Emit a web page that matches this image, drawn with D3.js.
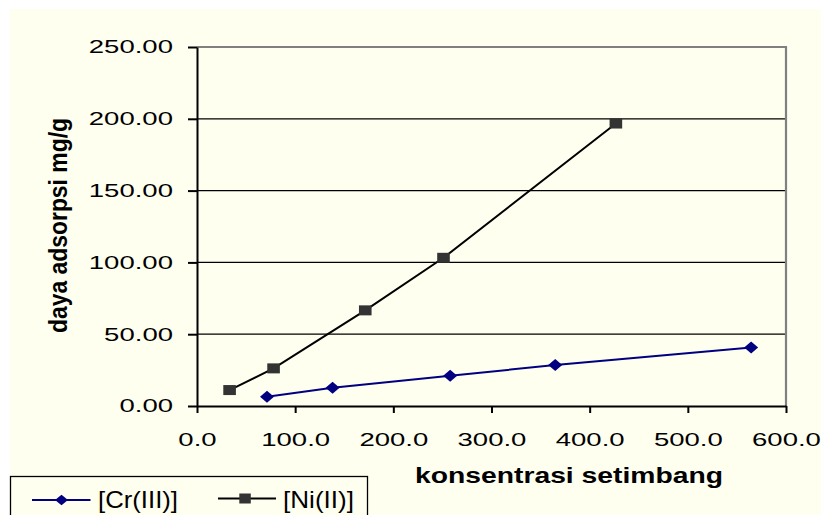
<!DOCTYPE html>
<html><head><meta charset="utf-8">
<script src="https://cdn.jsdelivr.net/npm/d3@7"></script>
<style>
html,body{margin:0;padding:0;background:#fff;}
svg{display:block;font-family:"Liberation Sans",Arial,sans-serif;}
</style></head>
<body>
<svg id="chart" width="821" height="515"></svg>
<script>
const crX = [71.3, 138.1, 257.9, 364.9, 564.5];
const crY = [6.5, 12.7, 21.1, 28.5, 40.8];
const niX = [33.2, 78.0, 171.4, 251.1, 426.7];
const niY = [11.1, 26.2, 66.6, 103.2, 196.7];
const xTicks = [0, 100, 200, 300, 400, 500, 600];
const yTicks = [0, 50, 100, 150, 200, 250];
const seriesNames = ["[Cr(III)]", "[Ni(II)]"];
const xTitle = "konsentrasi setimbang";
const yTitle = "daya adsorpsi mg/g";

const svg = d3.select("#chart");
svg.append("rect").attr("x",10).attr("y",9).attr("width",811).attr("height",506).attr("fill","#FFFFF0");

const L=197, R=786, T=47, B=406;
const x = d3.scaleLinear().domain([0,600]).range([L,R]);
const y = d3.scaleLinear().domain([0,250]).range([B,T]);
const SX = 1.48;

// gridlines
svg.append("g").selectAll("line").data(yTicks.filter(d=>d>0&&d<250)).join("line")
  .attr("x1",L).attr("x2",R).attr("y1",d=>y(d)).attr("y2",d=>y(d))
  .attr("stroke","#000").attr("stroke-width",1.3);
// top/right border
svg.append("path").attr("d",`M${L},${T}H${R}V${B}`).attr("fill","none").attr("stroke","#808080").attr("stroke-width",2.2);

// axes
const yAxis = svg.append("g").attr("transform",`translate(${L},0)`)
  .call(d3.axisLeft(y).tickValues(yTicks).tickSize(9).tickSizeOuter(0).tickFormat(d3.format(".2f")));
const xAxis = svg.append("g").attr("transform",`translate(0,${B})`)
  .call(d3.axisBottom(x).tickValues(xTicks).tickSize(7).tickSizeOuter(0).tickPadding(20).tickFormat(d3.format(".1f")));
[yAxis,xAxis].forEach(a=>{
  a.select(".domain").attr("stroke","#000").attr("stroke-width",2);
  a.selectAll(".tick line").attr("stroke","#000").attr("stroke-width",2);
  a.selectAll("text").attr("fill","#000").attr("font-size",18.6).attr("font-family","Liberation Sans, Arial, sans-serif");
});
yAxis.selectAll(".tick text").attr("x",0).attr("transform",`translate(-24,0) scale(${SX},1)`);
xAxis.selectAll(".tick text").attr("transform",`scale(${SX},1)`);

// titles
svg.append("text").attr("x",415).attr("y",483).attr("text-anchor","start")
  .attr("font-weight","bold").attr("font-size",22).attr("textLength",308).attr("lengthAdjust","spacingAndGlyphs").text(xTitle);
svg.append("text").attr("transform","translate(67,225.5) rotate(-90) scale(1,1.12)").attr("text-anchor","middle")
  .attr("font-weight","bold").attr("font-size",22.5).attr("textLength",215).attr("lengthAdjust","spacingAndGlyphs").text(yTitle);

const line = d3.line().x(d=>x(d[0])).y(d=>y(d[1]));
const cr = crX.map((v,i)=>[v,crY[i]]);
const ni = niX.map((v,i)=>[v,niY[i]]);

svg.append("path").datum(cr).attr("d",line).attr("fill","none").attr("stroke","#000080").attr("stroke-width",2);
svg.append("path").datum(ni).attr("d",line).attr("fill","none").attr("stroke","#000").attr("stroke-width",2);

const diamondPath = (w,h)=>`M0,${-h/2}L${w/2},0L0,${h/2}L${-w/2},0Z`;
svg.append("g").selectAll("path").data(cr).join("path")
  .attr("d",diamondPath(14,12)).attr("transform",d=>`translate(${x(d[0])},${y(d[1])})`).attr("fill","#000080");
svg.append("g").selectAll("rect").data(ni).join("rect")
  .attr("x",d=>x(d[0])-6.3).attr("y",d=>y(d[1])-5).attr("width",12.6).attr("height",10).attr("fill","#333333");

// legend
const lg = svg.append("g");
lg.append("rect").attr("x",10.5).attr("y",476.5).attr("width",357).attr("height",50).attr("fill","#FFFFF0").attr("stroke","#000").attr("stroke-width",1.3);
lg.append("line").attr("x1",32).attr("x2",90.5).attr("y1",500).attr("y2",500).attr("stroke","#000080").attr("stroke-width",2);
lg.append("path").attr("d",diamondPath(13,10.5)).attr("transform","translate(61.5,500)").attr("fill","#000080");
lg.append("text").attr("x",98).attr("y",508).attr("font-size",24).attr("textLength",80).attr("lengthAdjust","spacingAndGlyphs").text(seriesNames[0]);
lg.append("line").attr("x1",218).attr("x2",276).attr("y1",498.5).attr("y2",498.5).attr("stroke","#000").attr("stroke-width",2);
lg.append("rect").attr("x",239.3).attr("y",493.5).attr("width",11.5).attr("height",10).attr("fill","#333333");
lg.append("text").attr("x",283).attr("y",508).attr("font-size",24).attr("textLength",71).attr("lengthAdjust","spacingAndGlyphs").text(seriesNames[1]);
</script>
</body></html>
